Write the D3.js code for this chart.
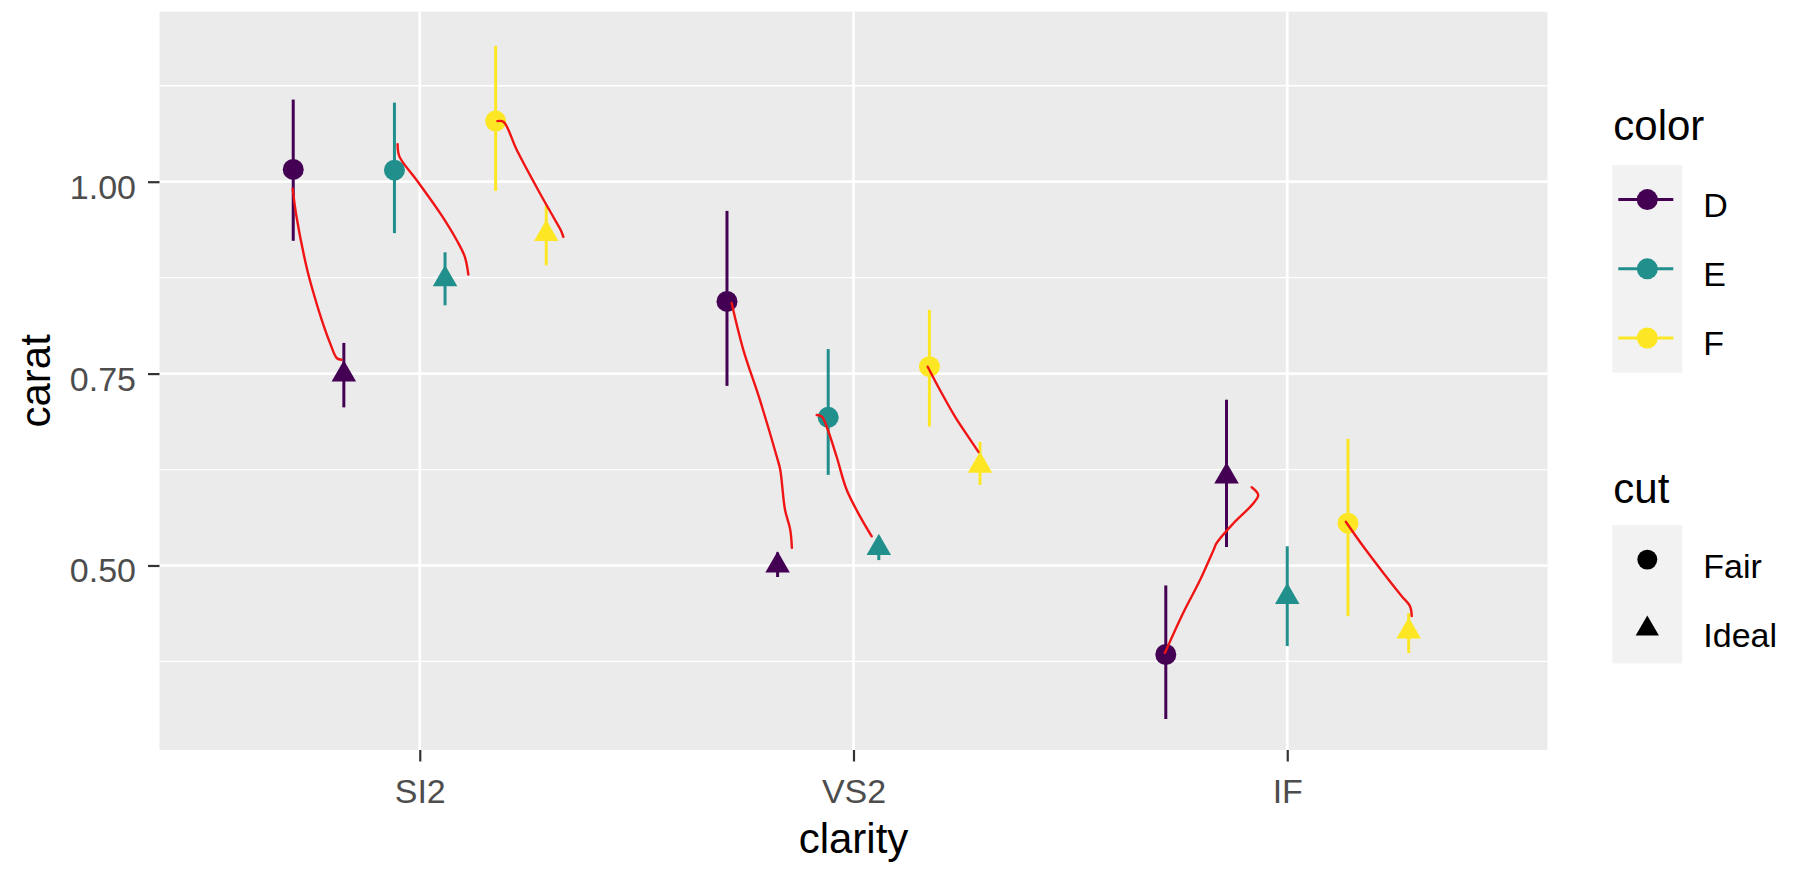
<!DOCTYPE html>
<html>
<head>
<meta charset="utf-8">
<script src="https://cdnjs.cloudflare.com/ajax/libs/d3/7.8.5/d3.min.js"></script>
<style>
body { margin: 0; background: #fff; }
text { font-family: "Liberation Sans", Arial, sans-serif; }
</style>
</head>
<body>
<svg id="chart" width="1815" height="872"></svg>
<script>
var clarity = ["SI2", "VS2", "IF"];
var colorLevels = ["D", "E", "F"];
var cutLevels = ["Fair", "Ideal"];
var yTicks = [0.5, 0.75, 1.0];
var yMinor = [0.375, 0.625, 0.875, 1.125];

// mean carat with interval ends, per clarity (null = no diamonds in that cell)
var dFairMean = [1.016, 0.844, 0.384], dFairLo = [0.923, 0.734, 0.300], dFairHi = [1.107, 0.962, 0.474];
var dIdealMean = [0.749, 0.500, 0.616], dIdealLo = [0.706, 0.485, 0.524], dIdealHi = [0.790, 0.517, 0.716];
var eFairMean = [1.015, 0.693, null], eFairLo = [0.933, 0.618, null], eFairHi = [1.103, 0.782, null];
var eIdealMean = [0.873, 0.523, 0.459], eIdealLo = [0.839, 0.507, 0.395], eIdealHi = [0.908, 0.537, 0.525];
var fFairMean = [1.079, 0.759, 0.555], fFairLo = [0.988, 0.681, 0.434], fFairHi = [1.177, 0.833, 0.665];
var fIdealMean = [0.932, 0.630, 0.414], fIdealLo = [0.891, 0.605, 0.386], fIdealHi = [0.970, 0.661, 0.438];

// hand-drawn red strokes, [clarity position, carat]
var strokes = [
	[[0.707, 0.991], [0.716, 0.954], [0.739, 0.889], [0.755, 0.855], [0.774, 0.820], [0.793, 0.790], [0.809, 0.770], [0.820, 0.768]],
	[[0.949, 1.049], [0.953, 1.033], [0.993, 1.002], [1.047, 0.959], [1.085, 0.924], [1.104, 0.902], [1.112, 0.879]],
	[[1.179, 1.079], [1.193, 1.078], [1.224, 1.041], [1.277, 0.985], [1.308, 0.954], [1.325, 0.937], [1.331, 0.928]],
	[[1.719, 0.842], [1.746, 0.781], [1.784, 0.716], [1.823, 0.642], [1.831, 0.625], [1.842, 0.573], [1.854, 0.547], [1.858, 0.523]],
	[[1.915, 0.696], [1.927, 0.694], [1.938, 0.681], [1.961, 0.642], [1.984, 0.599], [2.015, 0.564], [2.042, 0.538]],
	[[2.171, 0.759], [2.199, 0.729], [2.234, 0.694], [2.269, 0.664], [2.288, 0.648]],
	[[2.718, 0.386], [2.760, 0.438], [2.799, 0.481], [2.830, 0.520], [2.837, 0.529], [2.876, 0.555], [2.922, 0.581], [2.933, 0.592], [2.918, 0.602]],
	[[3.135, 0.557], [3.175, 0.525], [3.222, 0.490], [3.264, 0.460], [3.283, 0.447], [3.287, 0.434]]
];

var series = [
	{color: "D", cut: "Fair", mean: dFairMean, lo: dFairLo, hi: dFairHi},
	{color: "D", cut: "Ideal", mean: dIdealMean, lo: dIdealLo, hi: dIdealHi},
	{color: "E", cut: "Fair", mean: eFairMean, lo: eFairLo, hi: eFairHi},
	{color: "E", cut: "Ideal", mean: eIdealMean, lo: eIdealLo, hi: eIdealHi},
	{color: "F", cut: "Fair", mean: fFairMean, lo: fFairLo, hi: fFairHi},
	{color: "F", cut: "Ideal", mean: fIdealMean, lo: fIdealLo, hi: fIdealHi}
];

var panel = {left: 159.5, right: 1547.5, top: 11.7, bottom: 750};
var svg = d3.select("#chart");

var x = d3.scaleLinear().domain([0.4, 3.6]).range([panel.left, panel.right]);
var y = d3.scaleLinear().domain([0.2596, 1.2215]).range([panel.bottom, panel.top]);
var colour = d3.scaleOrdinal().domain(colorLevels).range(["#440154", "#21908C", "#FDE725"]);
var shape = d3.scaleOrdinal().domain(cutLevels).range([d3.symbolCircle, d3.symbolTriangle]);
var shapeSize = d3.scaleOrdinal().domain(cutLevels).range([346, 260]);

svg.append("rect").attr("width", 1815).attr("height", 872).attr("fill", "#fff");
svg.append("rect")
	.attr("x", panel.left).attr("y", panel.top)
	.attr("width", panel.right - panel.left).attr("height", panel.bottom - panel.top)
	.attr("fill", "#EBEBEB");

// grid
var grid = svg.append("g").attr("stroke", "#fff");
grid.selectAll(".minor").data(yMinor).enter().append("line")
	.attr("x1", panel.left).attr("x2", panel.right)
	.attr("y1", y).attr("y2", y)
	.attr("stroke-width", 1.3);
grid.selectAll(".major").data(yTicks).enter().append("line")
	.attr("x1", panel.left).attr("x2", panel.right)
	.attr("y1", y).attr("y2", y)
	.attr("stroke-width", 2.7);
grid.selectAll(".vmajor").data(clarity).enter().append("line")
	.attr("x1", function(d, i) { return x(i + 1); }).attr("x2", function(d, i) { return x(i + 1); })
	.attr("y1", panel.top).attr("y2", panel.bottom)
	.attr("stroke-width", 2.7);

// dodge: groups present in each clarity share width 0.7
var points = [];
clarity.forEach(function(c, i) {
	var present = series.filter(function(s) { return s.mean[i] != null; });
	var n = present.length, w = 0.7 / n;
	present.forEach(function(s, j) {
		points.push({
			x: i + 1 + (j - (n - 1) / 2) * w,
			mean: s.mean[i], lo: s.lo[i], hi: s.hi[i],
			color: s.color, cut: s.cut
		});
	});
});

var marks = svg.append("g").selectAll("g").data(points).enter().append("g");
marks.append("line")
	.attr("x1", function(d) { return x(d.x); }).attr("x2", function(d) { return x(d.x); })
	.attr("y1", function(d) { return y(d.lo); }).attr("y2", function(d) { return y(d.hi); })
	.attr("stroke", function(d) { return colour(d.color); })
	.attr("stroke-width", 3);
marks.append("path")
	.attr("transform", function(d) { return "translate(" + x(d.x) + "," + y(d.mean) + ")"; })
	.attr("d", function(d) { return d3.symbol().type(shape(d.cut)).size(shapeSize(d.cut))(); })
	.attr("fill", function(d) { return colour(d.color); });

// red annotations
var line = d3.line()
	.x(function(d) { return x(d[0]); })
	.y(function(d) { return y(d[1]); })
	.curve(d3.curveCatmullRom);
svg.append("g").selectAll("path").data(strokes).enter().append("path")
	.attr("d", line)
	.attr("fill", "none")
	.attr("stroke", "#f01414")
	.attr("stroke-width", 2.4)
	.attr("stroke-linecap", "round");

// axes
var xAxis = svg.append("g")
	.attr("transform", "translate(0," + panel.bottom + ")")
	.call(d3.axisBottom(x).tickValues([1, 2, 3]).tickFormat(function(d) { return clarity[d - 1]; }).tickSize(11.5).tickPadding(0));
var yAxis = svg.append("g")
	.attr("transform", "translate(" + panel.left + ",0)")
	.call(d3.axisLeft(y).tickValues(yTicks).tickFormat(d3.format(".2f")).tickSize(11.5).tickPadding(12));
[xAxis, yAxis].forEach(function(a) {
	a.select(".domain").remove();
	a.selectAll(".tick line").attr("stroke", "#333333").attr("stroke-width", 2.2);
	a.selectAll(".tick text").attr("fill", "#4D4D4D").style("font-size", "34px").style("font-family", "Liberation Sans, Arial, sans-serif");
});
xAxis.selectAll(".tick text").attr("y", 53).attr("dy", null);
yAxis.selectAll(".tick text").attr("dy", 16.5);

svg.append("text")
	.attr("x", (panel.left + panel.right) / 2).attr("y", 853)
	.attr("text-anchor", "middle").style("font-size", "42px")
	.text("clarity");
svg.append("text")
	.attr("transform", "translate(50," + (panel.top + panel.bottom) / 2 + ") rotate(-90)")
	.attr("text-anchor", "middle").style("font-size", "42px")
	.text("carat");

// legends
var keyW = 70, keyH = 69.2, legX = 1612.3;
var colorLeg = svg.append("g").attr("transform", "translate(" + legX + ",0)");
colorLeg.append("text").attr("x", 1).attr("y", 140).style("font-size", "42px").text("color");
colorLeg.append("rect").attr("y", 165).attr("width", keyW).attr("height", keyH * colorLevels.length).attr("fill", "#F2F2F2");
var ck = colorLeg.selectAll(".key").data(colorLevels).enter().append("g")
	.attr("transform", function(d, i) { return "translate(0," + (165 + keyH * (i + 0.5)) + ")"; });
ck.append("line").attr("x1", 6).attr("x2", keyW - 9)
	.attr("stroke", colour).attr("stroke-width", 3);
ck.append("circle").attr("cx", 35).attr("r", 10.5).attr("fill", colour);
ck.append("text").attr("x", 91).attr("y", 17).style("font-size", "34px").text(function(d) { return d; });

var cutLeg = svg.append("g").attr("transform", "translate(" + legX + ",0)");
cutLeg.append("text").attr("x", 1).attr("y", 503).style("font-size", "42px").text("cut");
cutLeg.append("rect").attr("y", 525).attr("width", keyW).attr("height", keyH * cutLevels.length).attr("fill", "#F2F2F2");
var sk = cutLeg.selectAll(".key").data(cutLevels).enter().append("g")
	.attr("transform", function(d, i) { return "translate(0," + (525 + keyH * (i + 0.5)) + ")"; });
sk.append("path")
	.attr("transform", "translate(35,0)")
	.attr("d", function(d) { return d3.symbol().type(shape(d)).size(shapeSize(d) * 0.9)(); })
	.attr("fill", "#000");
sk.append("text").attr("x", 91).attr("y", 18).style("font-size", "34px").text(function(d) { return d; });
</script>
</body>
</html>
